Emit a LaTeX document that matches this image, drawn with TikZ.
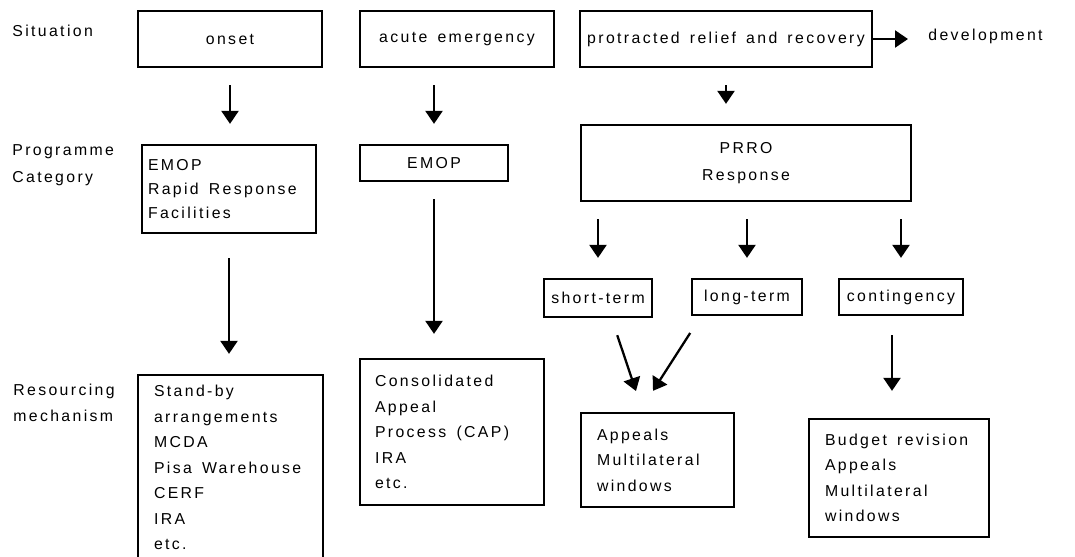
\documentclass[tikz,border=0pt]{standalone}
\usepackage{fontspec}
\setmainfont{Liberation Sans}[LetterSpace=15, WordSpace={1.5,1,0}]
\usepackage{tikz}
\usetikzlibrary{arrows.meta, positioning}

\begin{document}
\begin{tikzpicture}[
    box/.style={rectangle, draw, line width=1.3pt, inner sep=0pt, align=center},
    lbox/.style={rectangle, draw, line width=1.3pt, inner ysep=0pt, inner xsep=0.32cm, align=flush left},
    lbl/.style={anchor=west, inner sep=0pt, align=left},
    arr/.style={-{Triangle[width=0.34cm, length=0.26cm]}, line width=1.3pt, shorten <=0.34cm, shorten >=0.4cm},
    every node/.style={font=\fontsize{9}{14.5}\selectfont}
]
\useasboundingbox (0,0) rectangle (21.5,-11.14);

% --- Situation ---
\node[lbl] (sit) at (0.24,-0.62) {Situation};
\node[box, minimum width=3.68cm, minimum height=1.12cm] (onset) at (4.6,-0.78) {onset};
\node[box, minimum width=3.88cm, minimum height=1.12cm] (acute) at (9.14,-0.78) {acute emergency};
\node[box, minimum width=5.84cm, minimum height=1.12cm] (prot) at (14.52,-0.78) {protracted relief and recovery};
\node[lbl] (dev) at (18.56,-0.72) {development};
\draw[arr, shorten <=0pt] (prot.east) -- (prot.east -| dev.west);

% --- Programme category ---
\node[lbl] (prog) at (0.24,-3.3) {Programme\\[1pt]Category};
\node[lbox, inner xsep=0.12cm, text width=3.24cm, minimum height=1.76cm] (emop1) at (4.58,-3.78) {EMOP\\[-1pt]Rapid Response\\[-1pt]Facilities};
\node[box, minimum width=2.96cm, minimum height=0.72cm] (emop2) at (8.68,-3.26) {EMOP};
\node[box, minimum width=6.6cm, minimum height=1.52cm] (prro) at (14.92,-3.26) {PRRO\\[1pt]Response};
\draw[arr] (onset.south) -- (onset.south |- emop1.north);
\draw[arr] (acute.south -| emop2.north) -- (emop2.north);
\draw[arr] (prot.south) -- (prot.south |- prro.north);

% --- PRRO split ---
\node[box, minimum width=2.16cm, minimum height=0.76cm] (short) at (11.96,-5.96) {short-term};
\node[box, minimum width=2.2cm, minimum height=0.72cm] (long) at (14.94,-5.94) {long-term};
\node[box, minimum width=2.48cm, minimum height=0.72cm] (cont) at (18.02,-5.94) {contingency};
\draw[arr] (prro.south -| short.north) -- (short.north);
\draw[arr] (prro.south -| long.north) -- (long.north);
\draw[arr] (prro.south -| cont.north) -- (cont.north);

% --- Resourcing mechanism ---
\node[lbl] (res) at (0.26,-8.06) {Resourcing\\mechanism};
\node[lbox, text width=3.06cm, minimum height=3.7cm] (standby) at (4.61,-9.35) {Stand-by\\arrangements\\MCDA\\Pisa Warehouse\\CERF\\IRA\\etc.};
\node[lbox, inner xsep=0.3cm, text width=3.08cm, minimum height=2.92cm] (cap) at (9.04,-8.64) {Consolidated\\Appeal\\Process (CAP)\\IRA\\etc.};
\node[lbox, text width=2.42cm, minimum height=1.88cm] (appeals) at (13.15,-9.2) {Appeals\\Multilateral\\windows};
\node[lbox, text width=2.96cm, minimum height=2.36cm] (budget) at (17.98,-9.56) {Budget revision\\Appeals\\Multilateral\\windows};
\draw[arr, shorten <=0.48cm] (emop1.south) -- (emop1.south |- standby.north);
\draw[arr, shorten >=0.48cm] (emop2.south) -- (emop2.south |- cap.north);
\draw[arr, shorten <=0.36cm, shorten >=0.44cm] ([xshift=0.27cm]short.south) -- ([xshift=-0.29cm]appeals.north);
\draw[arr, shorten <=0.4cm, shorten >=0.5cm] ([xshift=-0.92cm]long.south) -- ([xshift=-0.36cm]appeals.north);
\draw[arr, shorten <=0.38cm, shorten >=0.54cm] ([xshift=-0.18cm]cont.south) -- ([xshift=-0.18cm]cont.south |- budget.north);
\end{tikzpicture}
\end{document}
